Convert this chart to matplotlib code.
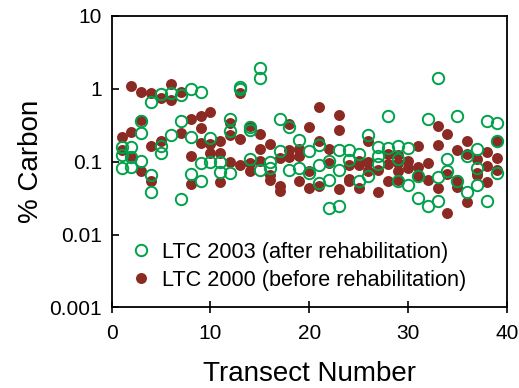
import matplotlib
matplotlib.use("Agg")
import matplotlib.pyplot as plt
import matplotlib.ticker as mticker

plt.rcParams['font.family'] = ['Liberation Sans', 'DejaVu Sans']

# LTC 2000 (before rehabilitation) - transect number, % carbon
x_2000 = [1, 1, 2, 2, 2, 3, 3, 3, 4, 4, 4, 5, 5, 6, 6, 7, 7, 8, 8, 8,
          9, 9, 9, 10, 10, 10, 11, 11, 11, 12, 12, 12, 13, 13, 13,
          14, 14, 14, 15, 15, 15, 16, 16, 16, 17, 17, 17, 18, 18, 18,
          19, 19, 19, 20, 20, 20, 21, 21, 21, 22, 22, 23, 23, 23,
          24, 24, 24, 25, 25, 25, 26, 26, 26, 27, 27, 28, 28, 28,
          29, 29, 29, 29, 30, 30, 31, 31, 31, 32, 32, 33, 33, 33,
          34, 34, 34, 35, 35, 35, 36, 36, 36, 37, 37, 37, 38, 38, 38,
          39, 39, 39]
c_2000 = [0.22, 0.146, 1.1, 0.255, 0.12, 0.9, 0.37, 0.075, 0.88, 0.167, 0.055,
          0.76, 0.194, 1.18, 0.7, 0.92, 0.25, 0.38, 0.118, 0.05,
          0.43, 0.29, 0.18, 0.48, 0.175, 0.13, 0.19, 0.13, 0.053,
          0.34, 0.234, 0.098, 0.87, 0.207, 0.09,
          0.31, 0.095, 0.075, 0.24, 0.15, 0.103, 0.175, 0.065, 0.056,
          0.112, 0.047, 0.040, 0.33, 0.147, 0.115,
          0.15, 0.118, 0.055, 0.30, 0.075, 0.044, 0.556, 0.19, 0.046,
          0.15, 0.097, 0.44, 0.27, 0.042,
          0.091, 0.058, 0.054, 0.103, 0.09, 0.043, 0.19, 0.1, 0.075,
          0.078, 0.039, 0.126, 0.093, 0.055,
          0.125, 0.097, 0.074, 0.057, 0.103, 0.082, 0.165, 0.084, 0.063,
          0.097, 0.057, 0.31, 0.171, 0.043,
          0.237, 0.068, 0.02, 0.147, 0.057, 0.045, 0.194, 0.126, 0.028,
          0.108, 0.07, 0.065, 0.136, 0.087, 0.053,
          0.194, 0.112, 0.078]

# LTC 2003 (after rehabilitation)
x_2003 = [1, 1, 1, 2, 2, 2, 3, 3, 3, 4, 4, 4, 5, 5, 5, 6, 6, 7, 7, 7,
          8, 8, 8, 9, 9, 9, 10, 10, 11, 11, 12, 12, 12, 13, 13,
          14, 14, 14, 15, 15, 15, 16, 16, 17, 17, 18, 18, 19, 19,
          20, 20, 21, 21, 21, 22, 22, 22, 23, 23, 23, 24, 24, 25, 25,
          26, 26, 27, 27, 27, 28, 28, 29, 29, 29, 30, 30, 31, 31,
          32, 32, 33, 33, 33, 34, 34, 35, 35, 36, 36, 37, 37, 37,
          38, 38, 39, 39, 39]
c_2003 = [0.157, 0.125, 0.082, 0.157, 0.115, 0.085, 0.357, 0.245, 0.103,
          0.67, 0.066, 0.039, 0.85, 0.167, 0.133, 0.87, 0.23, 0.83, 0.36, 0.031,
          1.0, 0.22, 0.068, 0.9, 0.097, 0.054, 0.21, 0.1, 0.1, 0.073,
          0.39, 0.26, 0.07, 1.05, 1.0,
          0.3, 0.27, 0.11, 1.96, 1.43, 0.078, 0.1, 0.082, 0.38, 0.14,
          0.3, 0.078, 0.2, 0.082,
          0.139, 0.07, 0.171, 0.091, 0.051, 0.103, 0.057, 0.023,
          0.147, 0.078, 0.025, 0.143, 0.107, 0.126, 0.055,
          0.23, 0.063, 0.16, 0.118, 0.094, 0.43, 0.154, 0.167, 0.11, 0.054,
          0.154, 0.048, 0.063, 0.032,
          0.38, 0.025, 1.4, 0.061, 0.029, 0.11, 0.075, 0.42, 0.055,
          0.118, 0.038, 0.15, 0.082, 0.048,
          0.36, 0.029, 0.34, 0.19, 0.071]

y_ticks = [0.001, 0.01, 0.1, 1, 10]
y_tick_labels = ["0.001", "0.01", "0.1", "1", "10"]
x_ticks = [0, 10, 20, 30, 40]

red = '#8b2a22'
green = '#00a14b'

fig = plt.figure(figsize=(5.19, 3.88), dpi=100)
ax = fig.add_axes([0.2152, 0.2075, 0.7611, 0.7513])

ax.plot(x_2000, c_2000, linestyle='none', marker='o', markersize=7.9,
        markerfacecolor=red, markeredgecolor=red, markeredgewidth=0,
        label='LTC 2000 (before rehabilitation)', zorder=2)
ax.plot(x_2003, c_2003, linestyle='none', marker='o', markersize=8.2,
        markerfacecolor='none', markeredgecolor=green, markeredgewidth=1.4,
        label='LTC 2003 (after rehabilitation)', zorder=3)

ax.set_yscale('log')
ax.set_ylim(0.001, 10)
ax.set_xlim(0, 40)
ax.set_yticks(y_ticks)
ax.set_yticklabels(y_tick_labels)
ax.yaxis.set_minor_locator(mticker.NullLocator())
ax.set_xticks(x_ticks)

ax.tick_params(axis='y', direction='in', length=5, width=1.2, labelsize=15, pad=7)
ax.tick_params(axis='x', direction='inout', length=8, width=1.2, labelsize=15, pad=8)
for s in ax.spines.values():
    s.set_linewidth(1.3)

ax.set_xlabel('Transect Number', fontsize=20, labelpad=13)
ax.set_ylabel('% Carbon', fontsize=20, labelpad=4)

h, l = ax.get_legend_handles_labels()
ax.legend([h[1], h[0]], [l[1], l[0]], loc='center left',
          bbox_to_anchor=(0.02, 0.142), frameon=False, fontsize=15.6,
          numpoints=1, handlelength=1.0, handletextpad=0.45, labelspacing=0.33,
          borderpad=0)

fig.savefig('out.png', dpi=100)
